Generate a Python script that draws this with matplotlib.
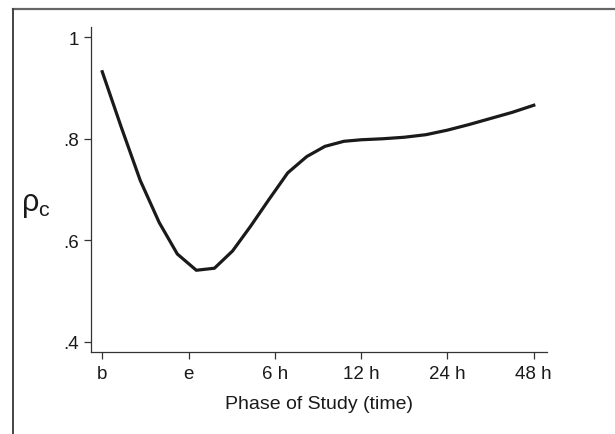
# Concordance coefficient over the study phases
import numpy as np
import matplotlib.pyplot as plt
from matplotlib.lines import Line2D

plt.rcParams['font.family'] = ['Liberation Sans', 'DejaVu Sans']

# phase positions (0 = b, 1 = e, 2 = 6 h, ...) and rho_c values
phase_x = [0, 0.22, 0.44, 0.66, 0.87, 1.09, 1.30, 1.51, 1.72, 1.93, 2.15, 2.37,
           2.58, 2.80, 3.0, 3.25, 3.5, 3.75, 4.0, 4.25, 4.5, 4.75, 5.0]
rho_c = [0.932, 0.823, 0.718, 0.635, 0.573, 0.541, 0.545, 0.579, 0.628, 0.680,
         0.733, 0.765, 0.785, 0.795, 0.798, 0.800, 0.803, 0.808, 0.817, 0.828,
         0.840, 0.852, 0.866]
tick_labels = ['b', 'e', '6 h', '12 h', '24 h', '48 h']
y_ticks = [0.4, 0.6, 0.8, 1.0]
y_tick_labels = ['.4', '.6', '.8', '1']

fig = plt.figure(figsize=(6.15, 4.35), dpi=100)
ax = fig.add_axes([0.148, 0.1885, 0.741, 0.747])

ax.plot(phase_x, rho_c, color='#1a1a1a', lw=2.3)

ax.set_xlim(-0.13, 5.15)
ax.set_ylim(0.38, 1.02)
ax.set_xticks(range(len(tick_labels)))
ax.set_xticklabels(tick_labels)
ax.set_yticks(y_ticks)
ax.set_yticklabels(y_tick_labels)
ax.tick_params(direction='out', length=5, width=0.9, colors='#333333',
               labelsize=13.5, labelcolor='#1a1a1a', pad=4)

for s in ['top', 'right']:
    ax.spines[s].set_visible(False)
for s in ['left', 'bottom']:
    ax.spines[s].set_color('#333333')
    ax.spines[s].set_linewidth(0.9)

ax.set_xlabel('Phase of Study (time)', fontsize=14, color='#1a1a1a', labelpad=10)
fig.text(21 / 615, 1 - 205 / 435, r'$\mathregular{\rho_c}$', fontsize=22,
         va='center', ha='left', color='#1a1a1a')

# frame around the figure (top and left edges visible)
fig.add_artist(Line2D([13 / 615, 1.0], [1 - 10 / 435, 1 - 10 / 435],
                      transform=fig.transFigure, color='#666666', lw=1.6))
fig.add_artist(Line2D([13 / 615, 13 / 615], [0.0, 1 - 10 / 435],
                      transform=fig.transFigure, color='#444444', lw=1.4))

fig.savefig('out.png', dpi=100)
